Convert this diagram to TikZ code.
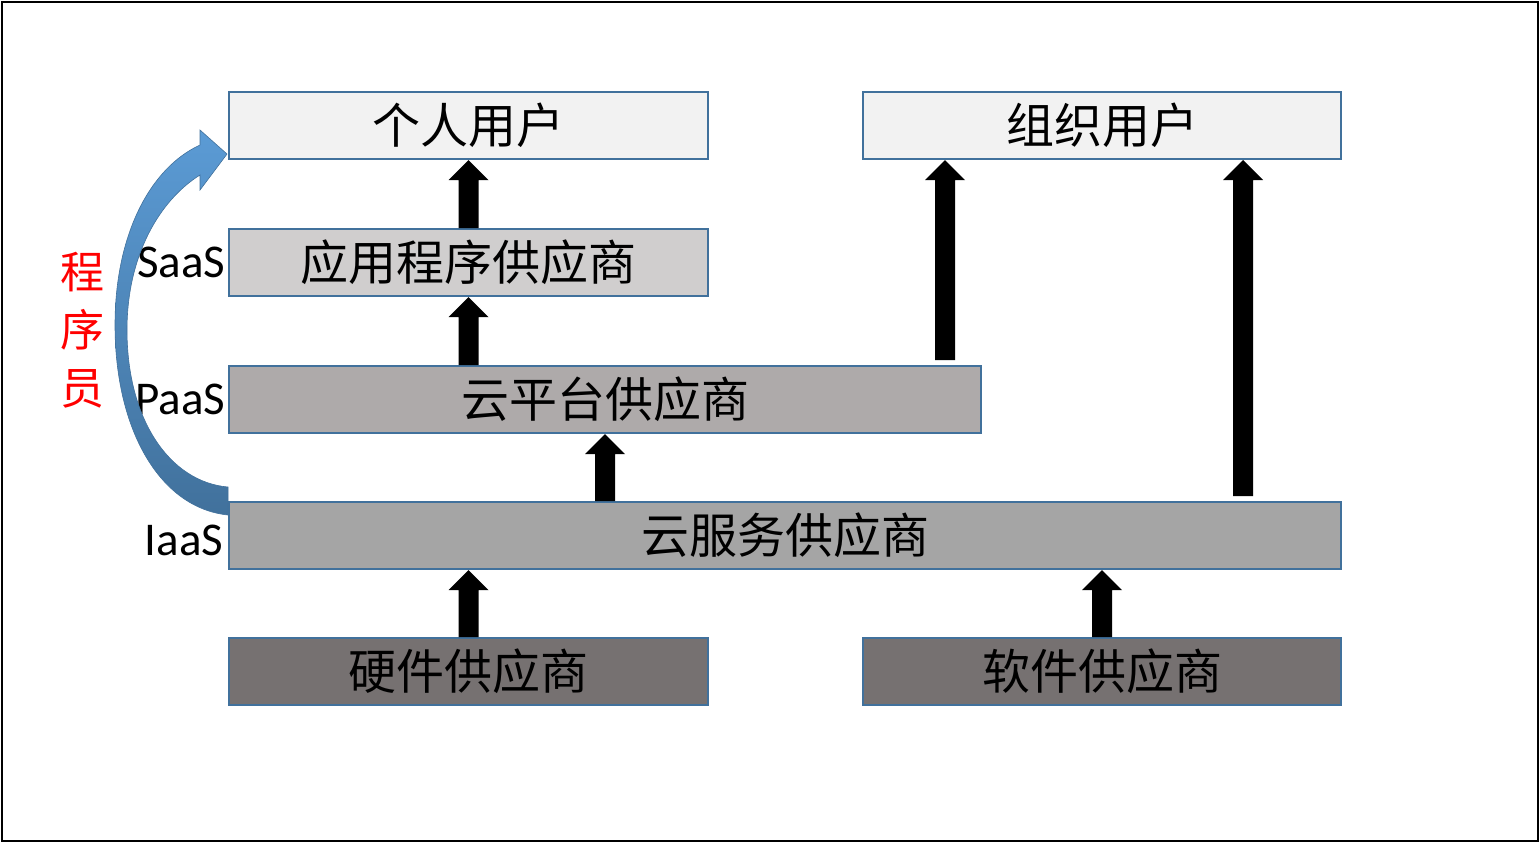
\documentclass[tikz,border=0pt]{standalone}
\usepackage{fontspec}
\setmainfont{Carlito}
\newfontfamily\cjk{Noto Sans CJK SC}
\usetikzlibrary{calc}

\definecolor{boxline}{RGB}{65,113,156}
\definecolor{userfill}{RGB}{242,242,242}
\definecolor{appfill}{RGB}{208,206,206}
\definecolor{platfill}{RGB}{174,170,170}
\definecolor{svcfill}{RGB}{165,165,165}
\definecolor{basefill}{RGB}{118,113,113}
\definecolor{arrtop}{RGB}{91,155,213}
\definecolor{arrbot}{RGB}{65,113,156}

\tikzset{every picture/.style={line width=0.75pt}}
\tikzset{
  layer/.style={draw=boxline, line width=1pt, anchor=north west, minimum height=33.5pt, inner sep=0pt, font=\cjk\fontsize{24}{28}\selectfont},
  tag/.style={anchor=east, inner sep=1pt, font=\fontsize{23.5}{27}\selectfont},
}
% block arrow pointing up: tail at #1, head touching #2
\newcommand{\blockup}[2]{%
  \fill let \p1=(#1), \p2=(#2) in (\x1-5pt,\y1) -- (\x1-5pt,\y2-10pt) -- (\x1-10pt,\y2-10pt) -- (\x1,\y2) -- (\x1+10pt,\y2-10pt) -- (\x1+5pt,\y2-10pt) -- (\x1+5pt,\y1) -- cycle;}

\begin{document}
\begin{tikzpicture}[x=0.5pt, y=-0.5pt]
    \useasboundingbox (0,0) rectangle (1539,842);
    \draw[line width=1pt] (2,2) rectangle (1537.5,841);

    \node[layer, fill=userfill, minimum width=239.5pt] (pers) at (228,91) {个人用户};
    \node[layer, fill=userfill, minimum width=239pt] (org) at (862,91) {组织用户};
    \node[layer, fill=appfill, minimum width=239.5pt] (app) at (228,228) {应用程序供应商};
    \node[layer, fill=platfill, minimum width=376pt] (plat) at (228,365) {云平台供应商};
    \node[layer, fill=svcfill, minimum width=556pt] (svc) at (228,501) {云服务供应商};
    \node[layer, fill=basefill, minimum width=239.5pt] (hw) at (228,637) {硬件供应商};
    \node[layer, fill=basefill, minimum width=239pt] (sw) at (862,637) {软件供应商};

    \node[tag] (saas) at (app.west) {SaaS};
    \node[tag] (paas) at (plat.west) {PaaS};
    \node[tag] (iaas) at ($(svc.west)+(-2,5)$) {IaaS};

    \blockup{app.north}{pers.south}
    \blockup{plat.north -| app.north}{app.south}
    \blockup{svc.north -| plat.north}{plat.south}
    \blockup{hw.north}{svc.south}
    \blockup{sw.north}{svc.south}
    \blockup{$(plat.north east)+(-37,-5)$}{org.south}
    \blockup{$(svc.north east)+(-99,-5)$}{org.south}

    % curved arrow for the programmer
    \shade[top color=arrtop, bottom color=arrbot, draw=arrbot, line width=0.3pt] (228,515) .. controls (160,508) and (115,430) .. (115,325) .. controls (115,235) and (150,168) .. (200,145) -- (200,130) -- (227,154) -- (200,190) -- (200,175) .. controls (160,200) and (127,255) .. (127,330) .. controls (127,420) and (170,482) .. (228,487) -- cycle;
    \node[text=red, align=center, inner sep=0pt, font=\cjk\fontsize{22}{29}\selectfont] (coder) at (83,330) {程\\序\\员};
\end{tikzpicture}
\end{document}
